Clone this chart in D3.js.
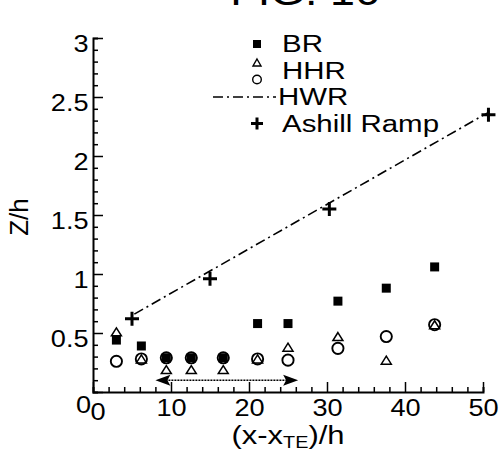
<!DOCTYPE html>
<html>
<head>
<meta charset="utf-8">
<script src="https://cdn.jsdelivr.net/npm/d3@7"></script>
<style>
  html, body { margin: 0; padding: 0; background: #fff; }
  svg { display: block; }
  text { font-family: "Liberation Sans", Arial, Helvetica, sans-serif; fill: #000; }
</style>
</head>
<body>
<svg id="chart" width="503" height="451"></svg>
<script>
// ---- data ----
const brX   = [3.0, 6.2, 9.4, 12.6, 16.7, 21.1, 25.0, 31.4, 37.6, 43.8];
const brY   = [0.44, 0.39, 0.29, 0.29, 0.29, 0.58, 0.58, 0.77, 0.88, 1.06];
const triX  = [3.0, 6.2, 9.4, 12.6, 16.7, 21.1, 25.0, 31.4, 37.6, 43.8];
const triY  = [0.51, 0.28, 0.19, 0.19, 0.19, 0.28, 0.38, 0.47, 0.27, 0.57];
const circX = [3.0, 6.2, 9.4, 12.6, 16.7, 21.1, 25.0, 31.4, 37.6, 43.8];
const circY = [0.26, 0.28, 0.29, 0.29, 0.29, 0.28, 0.27, 0.37, 0.47, 0.57];
const hwrX  = [5.3, 50.7];
const hwrY  = [0.66, 2.37];
const rampX = [5.0, 15.0, 30.3, 50.7];
const rampY = [0.62, 0.96, 1.55, 2.35];
const arrowX = [8.0, 26.3];
const arrowY = [0.10, 0.10];
const xTicks = [0, 10, 20, 30, 40, 50];
const yTicks = [0, 0.5, 1, 1.5, 2, 2.5, 3];
const legendLabels = ["BR", "HHR", "HWR", "Ashill Ramp"];
const titleText = "FIG. 16";

// ---- layout ----
const SX = 1.18;               // the scan is stretched horizontally
const svg = d3.select("#chart");
const x = d3.scaleLinear().domain([0, 50]).range([93, 483]);
const y = d3.scaleLinear().domain([0, 3]).range([392, 38]);
const fs = 23;

function stretchedText(parent, px, py, str, size, anchor, sx) {
  return parent.append("text")
    .attr("transform", `translate(${px},${py}) scale(${sx || SX},1)`)
    .attr("text-anchor", anchor || "start").attr("font-size", size).text(str);
}

// title (mostly cropped off the top, as in the reference)
stretchedText(svg, 305, 5, titleText, 38, "middle");

// ---- axes ----
const minorX = d3.range(0, 50.01, 2).filter(v => v % 10 !== 0);
const minorY = d3.range(0, 30.01, 1).map(v => v / 10).filter(v => Math.abs(v * 2 - Math.round(v * 2)) > 1e-6);

const gx = svg.append("g").attr("transform", `translate(0,${y(0)})`);
gx.call(d3.axisBottom(x).tickValues(minorX).tickSize(-5).tickFormat(""));
gx.append("g").call(d3.axisBottom(x).tickValues(xTicks).tickSize(-10).tickPadding(8).tickFormat(d3.format("d")))
  .call(g => g.select(".domain").remove());

const gy = svg.append("g").attr("transform", `translate(${x(0)},0)`);
gy.call(d3.axisLeft(y).tickValues(minorY).tickSize(-5).tickFormat(""));
gy.append("g").call(d3.axisLeft(y).tickValues(yTicks).tickSize(-10).tickPadding(4).tickFormat(d => d3.format("")(d)))
  .call(g => g.select(".domain").remove());

svg.selectAll(".domain").attr("stroke", "#000").attr("stroke-width", 2);
svg.selectAll(".tick line").attr("stroke", "#000").attr("stroke-width", 1.5);
svg.selectAll(".tick text").attr("font-size", fs)
  .attr("font-family", '"Liberation Sans", Arial, sans-serif').attr("fill", "#000")
  .attr("transform", `scale(${SX},1)`);
gy.selectAll(".tick text").attr("x", -4.5 / SX).attr("dy", "0.58em");
// the two zero labels, offset as in the reference
gx.selectAll(".tick text").filter(d => d === 0).attr("x", 4.5 / SX).attr("dy", "0.86em");
gy.selectAll(".tick text").filter(d => d === 0).attr("dy", "0.9em").attr("x", -2 / SX);

// axis titles
svg.append("text")
  .attr("transform", `translate(28,${(y(0) + y(3)) / 2 + 2}) rotate(-90)`)
  .attr("text-anchor", "middle").attr("font-size", 26).text("Z/h");
const xl = svg.append("text")
  .attr("transform", `translate(${(x(0) + x(50)) / 2},444) scale(1.24,1)`)
  .attr("text-anchor", "middle").attr("font-size", 25);
xl.append("tspan").text("(x-x");
xl.append("tspan").attr("font-size", 16).attr("dy", 4).text("TE");
xl.append("tspan").attr("dy", -4).text(")/h");

// ---- HWR dash-dot line ----
svg.append("path")
  .datum(hwrX.map((v, i) => [v, hwrY[i]]))
  .attr("d", d3.line().x(d => x(d[0])).y(d => y(d[1])))
  .attr("fill", "none").attr("stroke", "#000").attr("stroke-width", 1.6)
  .attr("stroke-dasharray", "10,4,2,4");

// ---- arrow ----
const ay = y(arrowY[0]);
svg.append("line").attr("x1", x(arrowX[0]) + 10).attr("x2", x(arrowX[1]) - 10)
  .attr("y1", ay).attr("y2", ay).attr("stroke", "#000").attr("stroke-width", 1.6)
  .attr("stroke-dasharray", "2,1");
[[x(arrowX[0]), 1], [x(arrowX[1]), -1]].forEach(([tx, dir]) => {
  svg.append("path")
    .attr("d", `M${tx},${ay} L${tx + dir * 15},${ay - 5.5} L${tx + dir * 12},${ay} L${tx + dir * 15},${ay + 5.5} Z`)
    .attr("fill", "#000");
});

// ---- markers ----
const sq = d3.symbol().type(d3.symbolSquare).size(81);
const triPath = (cx, cy, w, h) => `M${cx},${cy - h / 2} L${cx + w / 2},${cy + h / 2} L${cx - w / 2},${cy + h / 2} Z`;
const plus = (cx, cy, s) => `M${cx - s},${cy} H${cx + s} M${cx},${cy - s} V${cy + s}`;

svg.append("g").selectAll("circle").data(circX.map((v, i) => [v, circY[i]])).join("circle")
  .attr("cx", d => x(d[0])).attr("cy", d => y(d[1])).attr("r", 5.6)
  .attr("fill", "none").attr("stroke", "#000").attr("stroke-width", 1.9);
svg.append("g").selectAll("path").data(brX.map((v, i) => [v, brY[i]])).join("path")
  .attr("transform", d => `translate(${x(d[0])},${y(d[1])})`).attr("d", sq).attr("fill", "#000");
svg.append("g").selectAll("path").data(triX.map((v, i) => [v, triY[i]])).join("path")
  .attr("d", d => triPath(x(d[0]), y(d[1]), 10, 8))
  .attr("fill", "none").attr("stroke", "#000").attr("stroke-width", 1.5).attr("stroke-linejoin", "miter");
svg.append("g").selectAll("path").data(rampX.map((v, i) => [v, rampY[i]])).join("path")
  .attr("d", d => plus(x(d[0]), y(d[1]), 7)).attr("stroke", "#000").attr("stroke-width", 3).attr("fill", "none");

// ---- legend ----
const lx = 257, tx = 282;
const ly = [44, 70.5, 97, 123.5];
const lg = svg.append("g");
legendLabels.forEach((t, i) => {
  stretchedText(lg, i === 2 ? tx - 4 : tx, ly[i], t, 23, "start", 1.28).attr("dy", "0.36em");
});
lg.append("path").attr("transform", `translate(${lx},${ly[0]})`).attr("d", d3.symbol().type(d3.symbolSquare).size(64)).attr("fill", "#000");
lg.append("path").attr("d", triPath(lx, ly[1] - 8, 8, 7))
  .attr("fill", "none").attr("stroke", "#000").attr("stroke-width", 1.4);
lg.append("circle").attr("cx", lx).attr("cy", ly[1] + 9).attr("r", 4.3).attr("fill", "none").attr("stroke", "#000").attr("stroke-width", 1.4);
lg.append("line").attr("x1", 213).attr("x2", 276).attr("y1", ly[2]).attr("y2", ly[2])
  .attr("stroke", "#000").attr("stroke-width", 1.6).attr("stroke-dasharray", "10,4,2,4");
lg.append("path").attr("d", plus(lx, ly[3], 6)).attr("stroke", "#000").attr("stroke-width", 3);
</script>
</body>
</html>
